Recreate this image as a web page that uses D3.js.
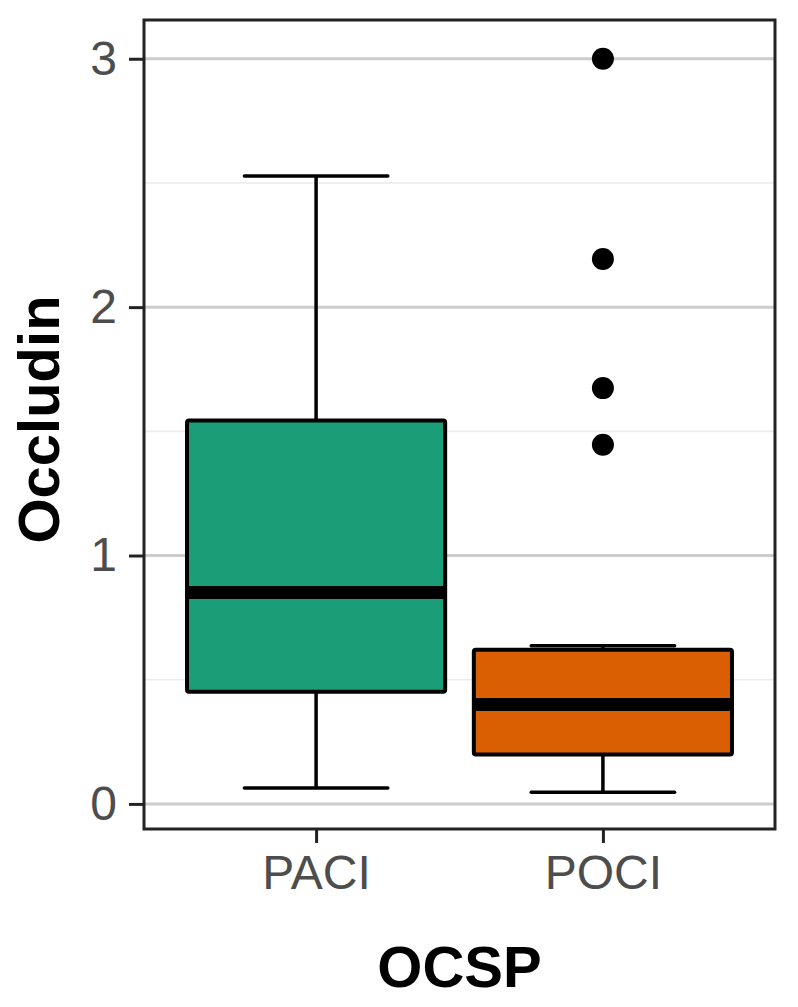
<!DOCTYPE html>
<html>
<head>
<meta charset="utf-8">
<script src="https://cdn.jsdelivr.net/npm/d3@7"></script>
<style>
  body { margin: 0; background: #fff; }
  text { font-family: "Liberation Sans", Arial, sans-serif; }
</style>
</head>
<body>
<script>
// box statistics per group
const groups = ["PACI", "POCI"];
const lowerWhisker = [0.064, 0.047];
const q1 = [0.452, 0.199];
const median = [0.851, 0.400];
const q3 = [1.544, 0.621];
const upperWhisker = [2.528, 0.637];
const outliers = [[], [3.0, 2.194, 1.674, 1.446]];
const fills = ["#1b9e77", "#d95f02"];
const yTicks = [0, 1, 2, 3];
const yMinor = [0.5, 1.5, 2.5];

const W = 798, H = 1007;
const panel = { left: 144, right: 775, top: 20, bottom: 829 };

const svg = d3.select("body").append("svg")
  .attr("width", W)
  .attr("height", H);

const x = d3.scalePoint().domain(groups).range([panel.left, panel.right]).padding(0.6);
const y = d3.scaleLinear().domain([-0.101, 3.156]).range([panel.bottom, panel.top]);

const boxW = x.step() * 0.9;
const whiskW = x.step() * 0.5;

// gridlines
svg.append("g").selectAll("line").data(yMinor).join("line")
  .attr("x1", panel.left).attr("x2", panel.right)
  .attr("y1", d => y(d)).attr("y2", d => y(d))
  .attr("stroke", "#ebebeb").attr("stroke-width", 1.6);

svg.append("g").selectAll("line").data(yTicks).join("line")
  .attr("x1", panel.left).attr("x2", panel.right)
  .attr("y1", d => y(d)).attr("y2", d => y(d))
  .attr("stroke", "#cccccc").attr("stroke-width", 3);

// boxes
const data = groups.map((g, i) => ({
  g, lo: lowerWhisker[i], q1: q1[i], med: median[i], q3: q3[i], hi: upperWhisker[i], fill: fills[i], out: outliers[i]
}));

const box = svg.append("g").selectAll("g").data(data).join("g");

// vertical whisker lines
box.append("line")
  .attr("x1", d => x(d.g)).attr("x2", d => x(d.g))
  .attr("y1", d => y(d.q3)).attr("y2", d => y(d.hi))
  .attr("stroke", "#000").attr("stroke-width", 3.5);
box.append("line")
  .attr("x1", d => x(d.g)).attr("x2", d => x(d.g))
  .attr("y1", d => y(d.q1)).attr("y2", d => y(d.lo))
  .attr("stroke", "#000").attr("stroke-width", 3.5);

// whisker caps
box.append("line")
  .attr("x1", d => x(d.g) - whiskW / 2).attr("x2", d => x(d.g) + whiskW / 2)
  .attr("y1", d => y(d.hi)).attr("y2", d => y(d.hi))
  .attr("stroke", "#000").attr("stroke-width", 3.5).attr("stroke-linecap", "round");
box.append("line")
  .attr("x1", d => x(d.g) - whiskW / 2).attr("x2", d => x(d.g) + whiskW / 2)
  .attr("y1", d => y(d.lo)).attr("y2", d => y(d.lo))
  .attr("stroke", "#000").attr("stroke-width", 3.5).attr("stroke-linecap", "round");

box.append("rect")
  .attr("x", d => x(d.g) - boxW / 2)
  .attr("width", boxW)
  .attr("y", d => y(d.q3))
  .attr("height", d => y(d.q1) - y(d.q3))
  .attr("fill", d => d.fill)
  .attr("stroke", "#000").attr("stroke-width", 4)
  .attr("rx", 2);

box.append("line")
  .attr("x1", d => x(d.g) - boxW / 2).attr("x2", d => x(d.g) + boxW / 2)
  .attr("y1", d => y(d.med)).attr("y2", d => y(d.med))
  .attr("stroke", "#000").attr("stroke-width", 13);

// outliers
box.selectAll("circle").data(d => d.out.map(v => ({ g: d.g, v }))).join("circle")
  .attr("cx", d => x(d.g)).attr("cy", d => y(d.v))
  .attr("r", 11).attr("fill", "#000");

// panel border
svg.append("rect")
  .attr("x", panel.left).attr("y", panel.top)
  .attr("width", panel.right - panel.left).attr("height", panel.bottom - panel.top)
  .attr("fill", "none").attr("stroke", "#222").attr("stroke-width", 3);

// axes
const yAxis = d3.axisLeft(y).tickValues(yTicks).tickSize(15).tickPadding(12).tickFormat(d3.format("d"));
const gy = svg.append("g").attr("transform", `translate(${panel.left},0)`).call(yAxis);
gy.select(".domain").remove();
gy.selectAll(".tick line").attr("stroke", "#222").attr("stroke-width", 3);
gy.selectAll(".tick text").attr("fill", "#4d4d4d").attr("font-size", 48)
  .attr("font-family", "Liberation Sans, Arial, sans-serif");

const xAxis = d3.axisBottom(x).tickSize(14).tickPadding(12);
const gx = svg.append("g").attr("transform", `translate(0,${panel.bottom})`).call(xAxis);
gx.select(".domain").remove();
gx.selectAll(".tick line").attr("stroke", "#222").attr("stroke-width", 3);
gx.selectAll(".tick text").attr("fill", "#4d4d4d").attr("font-size", 48)
  .attr("font-family", "Liberation Sans, Arial, sans-serif");

// axis titles
svg.append("text")
  .attr("x", (panel.left + panel.right) / 2).attr("y", 987)
  .attr("text-anchor", "middle")
  .attr("font-size", 58).attr("font-weight", "bold")
  .text("OCSP");

svg.append("text")
  .attr("transform", `translate(59,${(panel.top + panel.bottom) / 2 - 5}) rotate(-90)`)
  .attr("text-anchor", "middle")
  .attr("font-size", 58).attr("font-weight", "bold")
  .text("Occludin");
</script>
</body>
</html>
